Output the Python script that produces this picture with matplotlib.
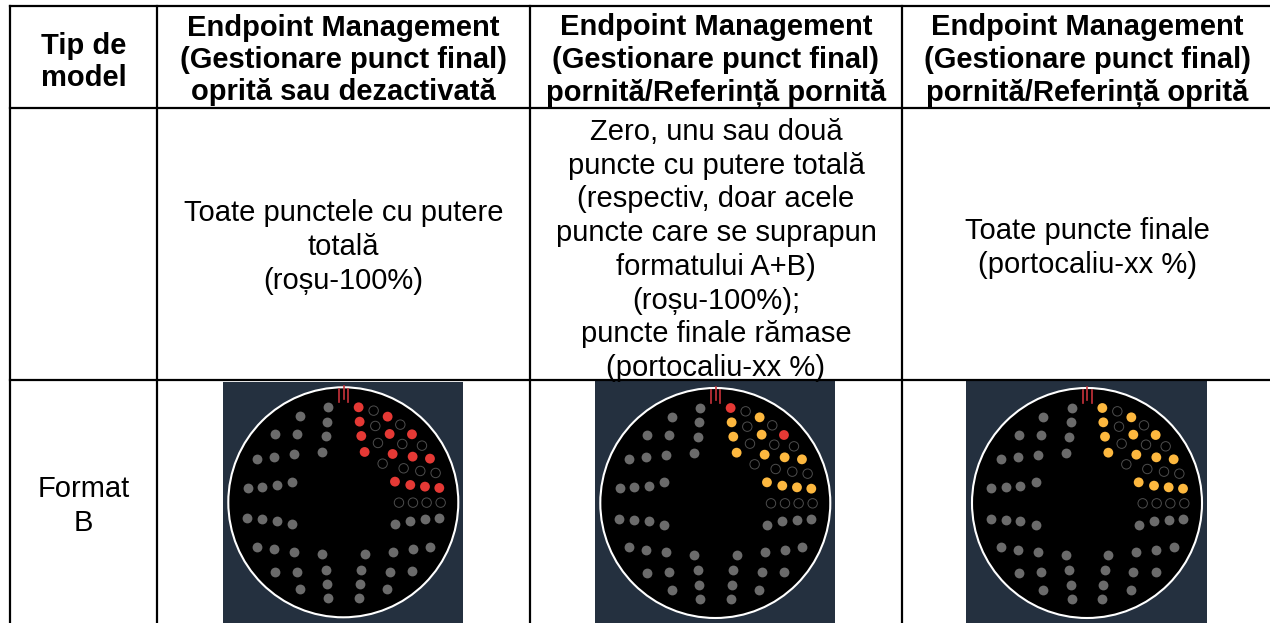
import numpy as np
import matplotlib
matplotlib.use("Agg")
import matplotlib.pyplot as plt
from matplotlib.patches import Circle, Rectangle

plt.rcParams['font.family'] = ['Liberation Sans', 'DejaVu Sans']

header = ["Tip de\nmodel",
          "Endpoint Management\n(Gestionare punct final)\noprită sau dezactivată",
          "Endpoint Management\n(Gestionare punct final)\npornită/Referință pornită",
          "Endpoint Management\n(Gestionare punct final)\npornită/Referință oprită"]
row1 = ["",
        "Toate punctele cu putere\ntotală\n(roșu-100%)",
        "Zero, unu sau două\npuncte cu putere totală\n(respectiv, doar acele\npuncte care se suprapun\nformatului A+B)\n(roșu-100%);\npuncte finale rămase\n(portocaliu-xx %)",
        "Toate puncte finale\n(portocaliu-xx %)"]
row2_label = "Format\nB"

col_x = [10, 157, 530, 902, 1272]
row_y = [6, 108, 380, 623]
header_y = [62, 60, 60, 60]
row1_y = [0, 247, 250, 248]

# dot offsets from the circle centre (zoom px)
lit_x = [46, 49, 54, 64, 133, 139, 148, 206, 208, 260, 155, 201, 245, 288]
lit_y = [-285, -242, -199, -151, -257, -205, -145, -204, -137, -131, -62, -52, -47, -43]
open_x = [91, 96, 104, 118, 171, 177, 181, 236, 231, 277, 167, 209, 250, 292]
open_y = [-275, -229, -178, -116, -233, -175, -102, -170, -94, -88, 1, 1, 1, 1]
gray_x = [155, 201, 245, 288, 148, 208, 260, 139, 206, 132, 64, 54, 49, 46,
          -63, -53, -48, -45, -147, -138, -131, -207, -204, -259, -153, -200, -244, -289,
          -153, -200, -244, -287, -147, -207, -259, -138, -205, -131, -63, -53, -48, -45]
gray_y = [65, 55, 50, 47, 148, 140, 133, 208, 206, 261, 155, 202, 246, 288,
          155, 202, 246, 288, 148, 208, 260, 140, 209, 133, 65, 55, 50, 48,
          -62, -52, -47, -44, -145, -137, -131, -205, -204, -258, -151, -199, -242, -285]
slash_x = [-13, 1, 15]
slash_top = [-340, -349, -340]
slash_bot = [-300, -310, -300]

# red dots per panel (index into lit_x), everything else lit is orange
lit_red = [list(range(14)), [0, 7], []]
centers_x = [343.3, 715.3, 1087]
centers_y = [502.3, 503, 503]
rect_l = [223, 595, 966]
rect_r = [463, 835, 1207]
rect_top = [382, 380, 380]

RED = '#e53935'
ORANGE = '#fdb83f'
GRAY = '#6b6b6b'
NAVY = '#24303f'
k = 1 / 3.0

fig = plt.figure(figsize=(12.7, 6.23), dpi=100)
ax = fig.add_axes([0, 0, 1, 1])
ax.set_xlim(0, 1270)
ax.set_ylim(623, 0)
ax.axis('off')

for i in range(3):
    cx, cy = centers_x[i], centers_y[i]
    ax.add_patch(Rectangle((rect_l[i], rect_top[i]), rect_r[i] - rect_l[i], 623 - rect_top[i],
                           fc=NAVY, ec='none', zorder=1))
    ax.add_patch(Circle((cx, cy), 115, fc='black', ec='white', lw=1.5, zorder=2))
    ax.scatter(cx + np.array(gray_x) * k, cy + np.array(gray_y) * k, s=50, c=GRAY, lw=0, zorder=3)
    ax.scatter(cx + np.array(open_x) * k, cy + np.array(open_y) * k, s=46, facecolors='none',
               edgecolors='#4d4d4d', lw=0.7, zorder=3)
    cols = [RED if j in lit_red[i] else ORANGE for j in range(len(lit_x))]
    ax.scatter(cx + np.array(lit_x) * k, cy + np.array(lit_y) * k, s=50, c=cols, lw=0, zorder=3)
    for j in range(3):
        ax.plot([cx + slash_x[j] * k] * 2, [cy + slash_top[j] * k, cy + slash_bot[j] * k],
                color='#c8323a', lw=1.2, zorder=4)

for x in col_x:
    ax.plot([x, x], [row_y[0], row_y[-1]], color='black', lw=1.6, zorder=5, solid_capstyle='projecting')
for y in row_y[:-1]:
    ax.plot([col_x[0], col_x[-1]], [y, y], color='black', lw=1.6, zorder=5, solid_capstyle='projecting')

for i in range(4):
    xc = (col_x[i] + col_x[i + 1]) / 2
    ax.text(xc, header_y[i], header[i], ha='center', va='center', fontsize=21, fontweight='bold',
            linespacing=1.2, zorder=6)
    if row1[i]:
        ax.text(xc, row1_y[i], row1[i], ha='center', va='center', fontsize=21,
                linespacing=1.26, zorder=6)
ax.text((col_x[0] + col_x[1]) / 2, 506, row2_label, ha='center', va='center', fontsize=21,
        linespacing=1.27, zorder=6)

fig.savefig("out.png", dpi=100)
